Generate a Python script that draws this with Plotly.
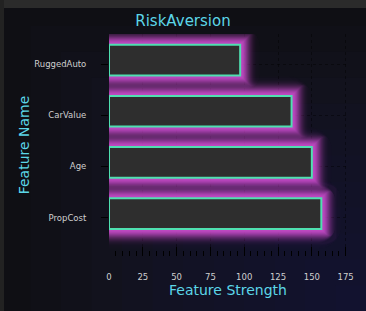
import math
import plotly.graph_objects as go

# ---- data ----
features = ["PropCost", "Age", "CarValue", "RuggedAuto"]
strength = [157, 150, 135, 97]
x_ticks = [0, 25, 50, 75, 100, 125, 150, 175]
x_tick_labels = ["0", "25", "50", "75", "100", "125", "150", "175"]

W, H = 366, 311
ML, MR, MT, MB = 109, 19, 34, 55
PW, PH = W - ML - MR, H - MT - MB

BAR_W = 0.6
SHIFT = 0.08
X_RANGE = [0, 176]
Y_RANGE = [-0.75, 3.59]
PX_X = PW / (X_RANGE[1] - X_RANGE[0])
PX_Y = PH / (Y_RANGE[1] - Y_RANGE[0])

fig = go.Figure()

# glow layers: gaussian-like falloff built from stacked translucent bars
N_GLOW, A_GLOW, S_GLOW = 20, 0.93, 9.0


def trans(d):
    if d >= N_GLOW:
        return 1.0
    return 1.0 - A_GLOW * math.exp(-(d / S_GLOW) ** 2)


for e in range(N_GLOW, 0, -1):
    a = 1.0 - trans(e - 1) / trans(e)
    w = BAR_W + 2 * e / PX_Y
    fig.add_trace(go.Bar(
        y=features, x=[v + e / PX_X for v in strength], orientation="h",
        width=w, offset=-w / 2 + SHIFT,
        marker=dict(color=f"rgba(206,78,208,{a:.4f})", line=dict(width=0), cornerradius=e + 3),
        hoverinfo="skip", showlegend=False))

fig.add_trace(go.Bar(
    y=features, x=strength, orientation="h",
    width=BAR_W, offset=-BAR_W / 2 + SHIFT,
    marker=dict(color="#2e2e2e", line=dict(color="#4fe0b0", width=2), cornerradius=3),
    showlegend=False))

# background gradient (paper extents)
x_lo, x_hi = -ML / PW, (W - ML) / PW
y_lo, y_hi = -MB / PH, (H - MB) / PH
shapes = [dict(type="rect", xref="paper", yref="paper", x0=x_lo, x1=x_hi, y0=y_lo, y1=y_hi,
               fillcolor="#0e0e10", line=dict(width=0), layer="below")]
N = 12
for i in range(N):
    f = i / N
    shapes.append(dict(type="rect", xref="paper", yref="paper",
                       x0=x_lo + (x_hi - x_lo) * f, x1=x_hi,
                       y0=y_lo, y1=y_hi - (y_hi - y_lo) * f,
                       fillcolor="rgba(32,38,82,0.06)", line=dict(width=0), layer="below"))
# app frame strips
shapes.append(dict(type="rect", xref="paper", yref="paper", x0=x_lo, x1=x_hi,
                   y0=y_hi - 8 / PH, y1=y_hi, fillcolor="#2b2b2b", line=dict(width=0), layer="above"))
shapes.append(dict(type="rect", xref="paper", yref="paper", x0=x_lo, x1=x_lo + 4 / PW,
                   y0=y_lo, y1=y_hi, fillcolor="#222222", line=dict(width=0), layer="above"))

fig.update_layout(
    width=W, height=H,
    margin=dict(l=ML, r=MR, t=MT, b=MB, autoexpand=False),
    barmode="overlay",
    paper_bgcolor="#0e0e10",
    plot_bgcolor="rgba(0,0,0,0)",
    shapes=shapes,
    title=dict(text="RiskAversion", x=0.5, xanchor="center", y=1 - 21 / H, yanchor="middle",
               font=dict(family="DejaVu Sans", size=15, color="#5cd6e8")),
    font=dict(family="DejaVu Sans", size=8.5, color="#cfcfcf"),
    xaxis=dict(
        range=X_RANGE, tickmode="array", tickvals=x_ticks, ticktext=x_tick_labels,
        ticks="inside", ticklen=9, tickcolor="#000000", tickwidth=1,
        minor=dict(tickmode="linear", tick0=0, dtick=5, ticks="inside", ticklen=5,
                   tickcolor="#000000", showgrid=False),
        showline=False, zeroline=False,
        showgrid=True, gridcolor="rgba(0,0,0,0.4)", griddash="dot", gridwidth=1,
        tickfont=dict(size=8.5, color="#cfcfcf"), ticklabelstandoff=14,
        automargin=False,
        title=dict(text="Feature Strength", standoff=4,
                   font=dict(family="DejaVu Sans", size=14, color="#5cd6e8")),
    ),
    yaxis=dict(
        range=Y_RANGE, categoryorder="array", categoryarray=features,
        ticks="outside", ticklen=7, tickcolor="#000000", tickwidth=1,
        showline=False, zeroline=False,
        showgrid=True, gridcolor="rgba(0,0,0,0.4)", griddash="dot", gridwidth=1,
        tickfont=dict(size=8.5, color="#cfcfcf"), ticklabelstandoff=13,
        automargin=False,
        title=dict(text="Feature Name", standoff=1,
                   font=dict(family="DejaVu Sans", size=14, color="#5cd6e8")),
    ),
)

fig.write_html(
    "out.html",
    config={"displayModeBar": False},
    post_script="document.body.style.margin='0';document.body.style.background='#0e0e10';",
)
